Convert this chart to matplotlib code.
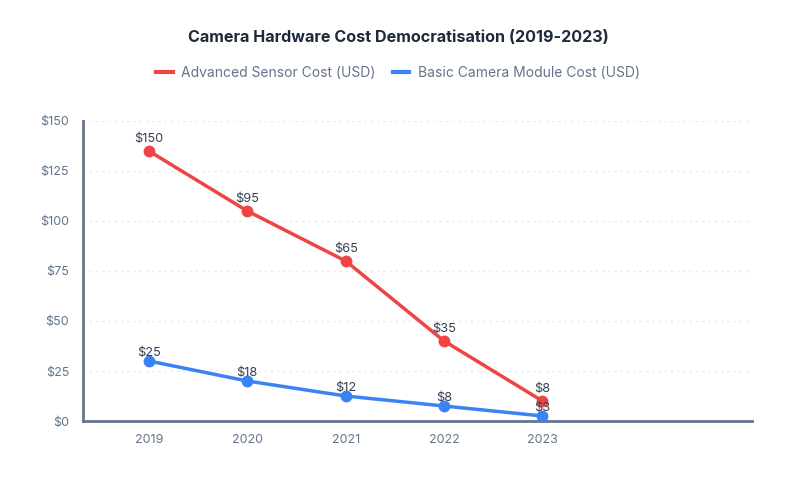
import matplotlib
matplotlib.use('Agg')
import matplotlib.pyplot as plt
from matplotlib.lines import Line2D

plt.rcParams['font.family'] = ['Inter', 'DejaVu Sans']

# Data
years = ['2019', '2020', '2021', '2022', '2023']
advanced = [135, 105, 80, 40, 10]        # plotted positions
basic = [30, 20, 12.5, 7.5, 2.5]
advanced_labels = ['$150', '$95', '$65', '$35', '$8']
basic_labels = ['$25', '$18', '$12', '$8', '$3']
yticks = [0, 25, 50, 75, 100, 125, 150]

red = '#ef4444'
blue = '#3b82f6'
axis_col = '#64748b'
text_col = '#334155'

fig = plt.figure(figsize=(7.96, 4.9), dpi=100)
ax = fig.add_axes([83 / 796, 69 / 490, (752 - 83) / 796, 300 / 490])

x = list(range(len(years)))
ax.plot(x, advanced, color=red, lw=2.5, marker='o', ms=7.5, zorder=3)
ax.plot(x, basic, color=blue, lw=2.5, marker='o', ms=7.5, zorder=3)

for xi, v, lab in zip(x, advanced, advanced_labels):
    ax.annotate(lab, (xi, v), xytext=(0, 4.5), textcoords='offset points',
                ha='center', va='bottom', fontsize=9.2, color=text_col)
for xi, v, lab in zip(x, basic, basic_labels):
    ax.annotate(lab, (xi, v), xytext=(0, 1.5), textcoords='offset points',
                ha='center', va='bottom', fontsize=9.2, color=text_col)

ax.set_xlim(-0.67, 6.13)
ax.set_ylim(0, 150)
ax.set_xticks(x)
ax.set_xticklabels(years)
ax.set_yticks(yticks)
ax.set_yticklabels(['$' + str(t) for t in yticks])
ax.tick_params(axis='both', length=0, labelsize=9, colors=axis_col)
ax.tick_params(axis='x', pad=9)
ax.tick_params(axis='y', pad=10)

ax.grid(axis='y', color='#e5e7eb', linestyle=(0, (1.5, 3)), lw=1)
ax.set_axisbelow(True)
for s in ['top', 'right']:
    ax.spines[s].set_visible(False)
for s in ['left', 'bottom']:
    ax.spines[s].set_color(axis_col)
    ax.spines[s].set_linewidth(2)

fig.text(0.5, 1 - 38 / 490, 'Camera Hardware Cost Democratisation (2019-2023)',
         ha='center', va='center', fontsize=11.6, fontweight='bold', color='#1e293b')

handles = [Line2D([], [], color=red, lw=3),
           Line2D([], [], color=blue, lw=3)]
fig.legend(handles, ['Advanced Sensor Cost (USD)', 'Basic Camera Module Cost (USD)'],
           loc='center', bbox_to_anchor=(0.5, 1 - 73 / 490), ncol=2, frameon=False,
           fontsize=10, labelcolor=axis_col, handlelength=1.2, handletextpad=0.6,
           columnspacing=1.2)

fig.savefig('out.png', dpi=100, facecolor='white')
